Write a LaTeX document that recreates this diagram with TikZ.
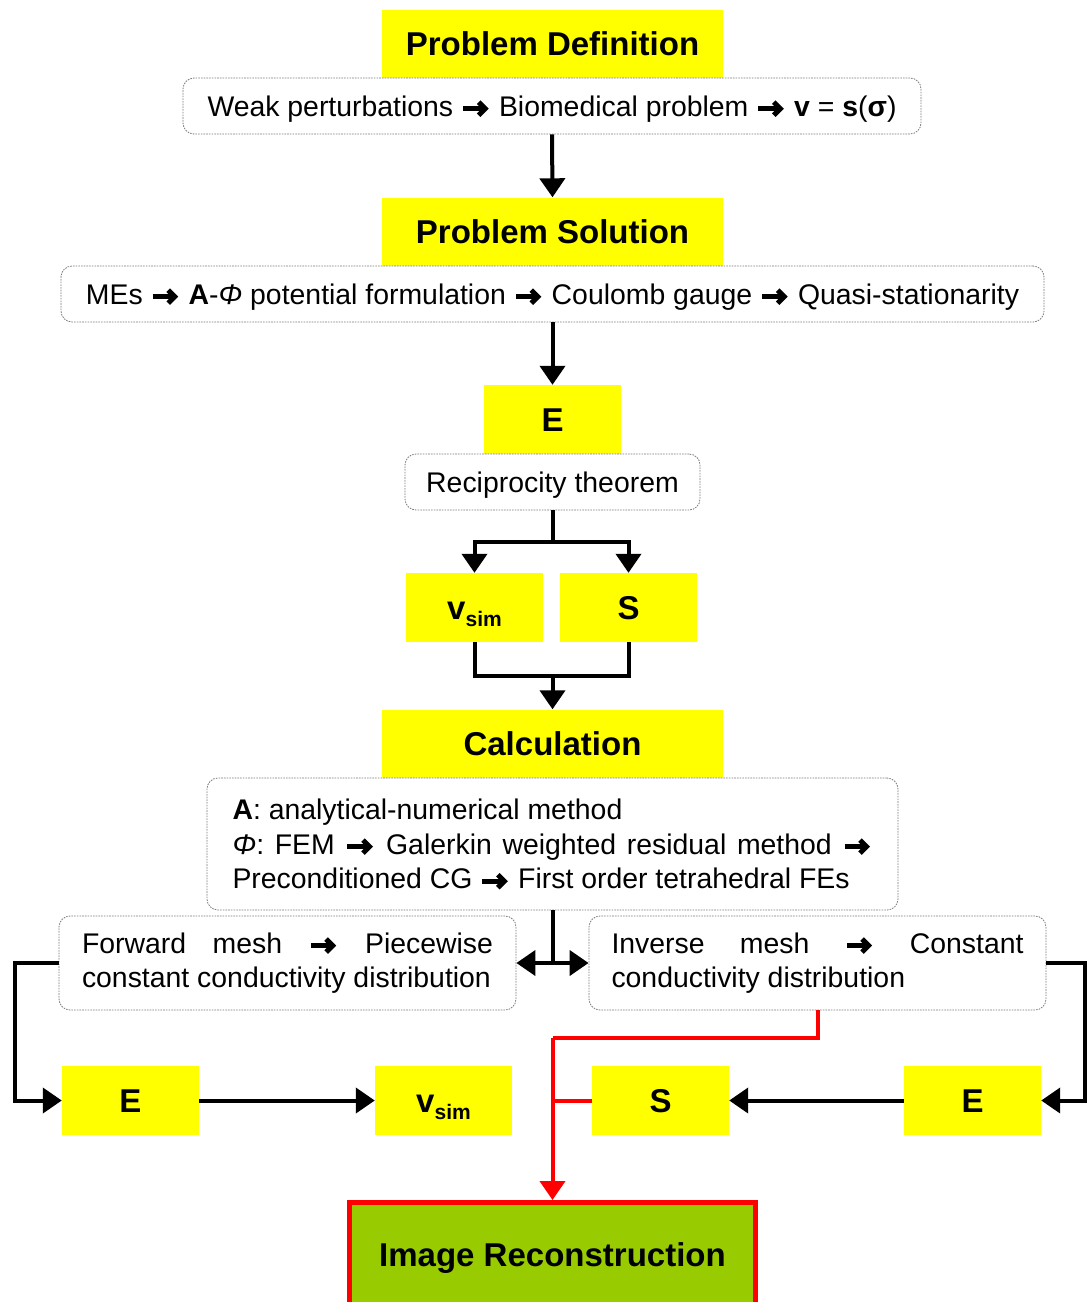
\documentclass[tikz,border=0pt]{standalone}
\usepackage{fontspec}
\setmainfont{Liberation Sans}
\usetikzlibrary{arrows.meta}

\definecolor{hlyellow}{HTML}{FFFF00}
\definecolor{imggreen}{HTML}{99CC00}
\definecolor{hlred}{HTML}{FF0000}
\definecolor{framegray}{HTML}{7A7A7A}

% heavy arrow used inside the text lines
\newcommand\harr{\tikz[baseline=0pt, solid, sharp corners, draw=black, line width=5pt,
  line join=miter, line cap=butt]{\useasboundingbox (-2pt,0pt) rectangle (28pt,14pt);
  \draw (0pt,7.5pt) -- (21pt,7.5pt);
  \draw (15.5pt,14pt) -- (22pt,7.5pt) -- (15.5pt,1pt);}}
% bold v with the "sim" index
\newcommand\vsim{v\raisebox{-7pt}[0pt][0pt]{\fontsize{21}{21}\selectfont sim}}

\tikzset{
  title/.style={fill=hlyellow, inner sep=0pt, minimum width=341pt, minimum height=68pt,
    font=\bfseries\fontsize{33}{36}\selectfont, text height=23.6pt, text depth=0pt},
  quantity/.style={title, minimum width=137pt, minimum height=69pt},
  note/.style={draw=framegray, dash pattern=on 1.6pt off 1.1pt, line width=0.8pt, fill=white,
    rounded corners=11pt, inner sep=0pt, minimum height=56pt,
    font=\fontsize{28.4}{34.5}\selectfont},
  oneline/.style={note, text height=20.3pt, text depth=0pt},
  link/.style={line width=4pt},
  flow/.style={link, -{Triangle[length=19pt,width=25pt]}},
  redlink/.style={link, draw=hlred},
  redflow/.style={flow, draw=hlred},
}

\begin{document}
\begin{tikzpicture}[x=1pt, y=-1pt]
\useasboundingbox (0,0) rectangle (1088,1302);

% problem definition and solution
\node[title] (pdef) at (552.5,44) {Problem Definition};
\node[oneline, minimum width=738pt] (weak) at (552,106)
  {Weak perturbations \harr{} Biomedical problem \harr{} \textbf{v} = \textbf{s}(\textbf{σ})};
\node[title] (psol) at (552.5,231.5) {Problem Solution};
\node[oneline, minimum width=983pt] (mes) at (552.5,294)
  {MEs \harr{} \textbf{A}-\textit{Φ} potential formulation \harr{} Coulomb gauge \harr{} Quasi-stationarity};

% field, reciprocity, sensitivity
\node[quantity] (e1) at (552.5,419.5) {E};
\node[oneline, minimum width=295pt] (recip) at (552.5,482) {Reciprocity theorem};
\node[quantity] (vs1) at (474.5,607.5) {\vsim};
\node[quantity] (s1) at (628.5,607.5) {S};

% calculation
\node[title] (calc) at (552.5,743.5) {Calculation};
\node[note, minimum width=691pt, minimum height=132pt, align=left] (method) at (552.5,844)
  {\textbf{A}: analytical-numerical method\\
   \makebox[640pt][s]{\textit{Φ}: FEM \harr{} Galerkin weighted residual method \harr}\\
   Preconditioned CG \harr{} First order tetrahedral FEs};

% meshes
\node[note, minimum width=457pt, minimum height=94pt, align=left] (fwd) at (287.5,963)
  {\makebox[411pt][s]{Forward mesh \harr{} Piecewise}\\constant conductivity distribution};
\node[note, minimum width=457pt, minimum height=94pt, align=left] (inv) at (817.5,963)
  {\makebox[412pt][s]{Inverse mesh \harr{} Constant}\\conductivity distribution};

% bottom row
\node[quantity] (e2) at (130.5,1100.5) {E};
\node[quantity] (vs2) at (443.5,1100.5) {\vsim};
\node[quantity] (s2) at (660.5,1100.5) {S};
\node[quantity] (e3) at (972.5,1100.5) {E};

% reconstruction
\node[draw=hlred, line width=5pt, fill=imggreen, inner sep=0pt, minimum width=406pt,
  minimum height=105pt, font=\bfseries\fontsize{33}{36}\selectfont,
  text height=23.6pt, text depth=0pt] (img) at (552.5,1255) {Image Reconstruction};

% junction points
\coordinate (j1) at (552.5,542);
\coordinate (j2) at (552.5,676);
\coordinate (j3) at (552.5,963);
\coordinate (lc) at (15,963);
\coordinate (rc) at (1085,963);
\coordinate (rj) at (552.5,1038);

% black connectors
\draw[flow] (weak.south) -- (psol.north);
\draw[flow] (mes.south) -- (e1.north);
\draw[link] (recip.south) -- (j1);
\draw[flow] (j1) -| (vs1.north);
\draw[flow] (j1) -| (s1.north);
\draw[link] (vs1.south) |- (j2) -| (s1.south);
\draw[flow] (j2) -- (calc.north);
\draw[link] (method.south) -- (j3);
\draw[flow] (j3) -- (fwd.east);
\draw[flow] (j3) -- (inv.west);
\draw[flow] (fwd.west) -- (lc) |- (e2.west);
\draw[flow] (e2.east) -- (vs2.west);
\draw[flow] (inv.east) -- (rc) |- (e3.east);
\draw[flow] (e3.west) -- (s2.east);

% red connectors
\draw[redlink] (inv.south) |- (rj);
\draw[redlink] (s2.west) -- (s2.west -| rj);
\draw[redflow] (rj) -- (img.north);
\end{tikzpicture}
\end{document}
